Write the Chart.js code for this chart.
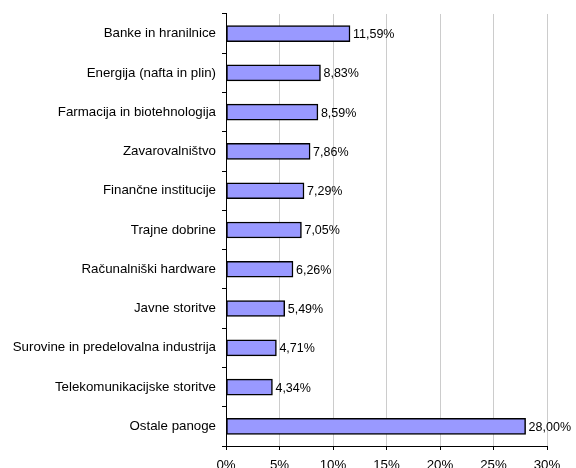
<!DOCTYPE html>
<html>
<head>
<meta charset="utf-8">
<script src="https://cdn.jsdelivr.net/npm/chart.js@4"></script>
<style>
  html, body { margin: 0; padding: 0; background: #fff; }
  #wrap { width: 576px; height: 468px; }
</style>
</head>
<body>
<div id="wrap"><canvas id="chart" width="576" height="468"></canvas></div>
<script>
const sectors = [
  "Banke in hranilnice",
  "Energija (nafta in plin)",
  "Farmacija in biotehnologija",
  "Zavarovalništvo",
  "Finančne institucije",
  "Trajne dobrine",
  "Računalniški hardware",
  "Javne storitve",
  "Surovine in predelovalna industrija",
  "Telekomunikacijske storitve",
  "Ostale panoge",
];

const shares = [11.59, 8.83, 8.59, 7.86, 7.29, 7.05, 6.26, 5.49, 4.71, 4.34, 28.0];

const x_ticks = [0, 5, 10, 15, 20, 25, 30];

Chart.defaults.font.family = "'Liberation Sans', Arial, sans-serif";
Chart.defaults.font.size = 13.3;
Chart.defaults.color = "#000000";

// write the value at the end of each bar
const valueLabels = {
  id: "valueLabels",
  afterDatasetsDraw(chart) {
    const ctx = chart.ctx;
    const meta = chart.getDatasetMeta(0);
    ctx.save();
    ctx.font = "12.5px 'Liberation Sans', Arial, sans-serif";
    ctx.fillStyle = "#000";
    ctx.textBaseline = "middle";
    ctx.textAlign = "left";
    meta.data.forEach((bar, i) => {
      const txt = shares[i].toFixed(2).replace(".", ",") + "%";
      ctx.fillText(txt, bar.x + 3, bar.y + 1);
    });
    ctx.restore();
  },
};

new Chart(document.getElementById("chart"), {
  type: "bar",
  data: {
    labels: sectors,
    datasets: [
      {
        data: shares,
        backgroundColor: "#9999FF",
        borderColor: "#000000",
        borderWidth: 1.5,
        borderSkipped: false,
        barThickness: 16,
      },
    ],
  },
  options: {
    indexAxis: "y",
    responsive: false,
    animation: false,
    layout: { padding: { top: 12, right: 29, left: 0, bottom: 0 } },
    plugins: {
      legend: { display: false },
      tooltip: { enabled: false },
    },
    scales: {
      x: {
        min: 0,
        max: 30,
        afterBuildTicks: (scale) => {
          scale.ticks = x_ticks.map((v) => ({ value: v }));
        },
        afterFit: (scale) => {
          scale.height = 22;
        },
        ticks: {
          callback: (v) => v + "%",
          padding: 7.5,
          maxRotation: 0,
        },
        grid: {
          color: "#CCCCCC",
          tickColor: "#000000",
          tickLength: 4,
          lineWidth: 1,
        },
        border: { color: "#000000", width: 1 },
      },
      y: {
        afterFit: (scale) => {
          scale.width = 226;
        },
        ticks: { padding: 6, autoSkip: false },
        grid: {
          offset: true,
          drawOnChartArea: false,
          tickColor: "#000000",
          tickLength: 4,
        },
        border: { color: "#000000", width: 1 },
      },
    },
  },
  plugins: [valueLabels],
});
</script>
</body>
</html>
